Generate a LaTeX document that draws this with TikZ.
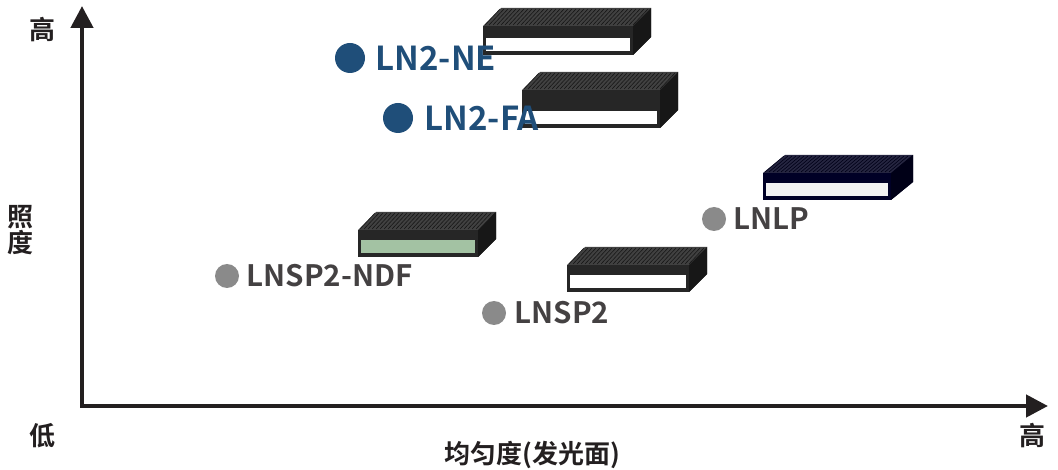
\documentclass[tikz,border=0pt]{standalone}
\usepackage{fontspec}
\setmainfont{Noto Sans CJK SC}[BoldFont={Noto Sans CJK SC Bold}]
\usetikzlibrary{arrows.meta}
\definecolor{navy}{HTML}{1F4E79}
\definecolor{dotgray}{HTML}{8A8A8A}
\definecolor{axisc}{HTML}{231F20}
\newcommand{\mybar}[7]{% x y w h depth-shift fill strip
  \fill[#6!70!gray] (#1,#2+18) -- (#1+#5,#2) -- (#1+#3+#5,#2) -- (#1+#3+#5,#4+#2-18) -- (#1+#3,#4+#2) -- (#1+#3,#2+18) -- cycle;
  \foreach \i in {0,4,...,#3}{\draw[#6!60!black,line width=0.6pt] (#1+\i+2,#2+17) -- (#1+\i+#5-1,#2+1);}
  \fill[#6] (#1,#2+18) rectangle (#1+#3,#2+#4);
  \fill[#7] (#1+3,#2+#4-17) rectangle (#1+#3-3,#2+#4-4);
  \fill[#6!60!black] (#1+#3,#2+18) -- (#1+#3+#5,#2) -- (#1+#3+#5,#2+#4-18) -- (#1+#3,#2+#4) -- cycle;
}
\begin{document}
\begin{tikzpicture}[x=1pt,y=-1pt,
  ax/.style={line width=4.5pt,axisc,-{Triangle[length=22pt,width=22pt]}},
  big/.style={font=\bfseries\fontsize{33}{36}\selectfont,text=navy,anchor=west},
  small/.style={font=\bfseries\fontsize{29.5}{32}\selectfont,text=axisc!85,anchor=west},
  lab/.style={font=\bfseries\fontsize{26}{30}\selectfont,text=axisc}]
\useasboundingbox (0,0) rectangle (1058,470);
\coordinate (o) at (82,406);
\coordinate (ytop) at (82,6);
\coordinate (xend) at (1048,406);
\draw[ax] (o) -- (ytop);
\draw[ax] (80,406) -- (xend);
\node[lab] (yh) at (42,30) {高};
\node[lab,align=center] (yl) at (20,230) {照\\[-4pt]度};
\node[lab] (yo) at (42,436) {低};
\node[lab] (xh) at (1032,436) {高};
\node[lab] (xl) at (532,455) {均匀度(发光面)};
% bars
\mybar{483}{8}{150}{47}{18}{gray!30!black}{white}
\mybar{522}{72}{138}{56}{18}{gray!30!black}{white}
\mybar{763}{155}{128}{45}{22}{blue!15!black}{white!90!gray}
\mybar{358}{212}{120}{45}{18}{gray!30!black}{green!20!gray!60}
\mybar{567}{247}{122}{45}{18}{gray!30!black}{white}
% dots and labels
\fill[navy] (350,58) circle (15) node[coordinate] (d1) {};
\node[big] (t1) at (372,58) {LN2-NE};
\fill[navy] (398,118) circle (15) node[coordinate] (d2) {};
\node[big] (t2) at (421,118) {LN2-FA};
\fill[dotgray] (227,276) circle (12) node[coordinate] (d3) {};
\node[small] (t3) at (243,276) {LNSP2-NDF};
\fill[dotgray] (494,313) circle (12) node[coordinate] (d4) {};
\node[small] (t4) at (511,313) {LNSP2};
\fill[dotgray] (714,219) circle (12) node[coordinate] (d5) {};
\node[small] (t5) at (730,219) {LNLP};
\end{tikzpicture}
\end{document}
